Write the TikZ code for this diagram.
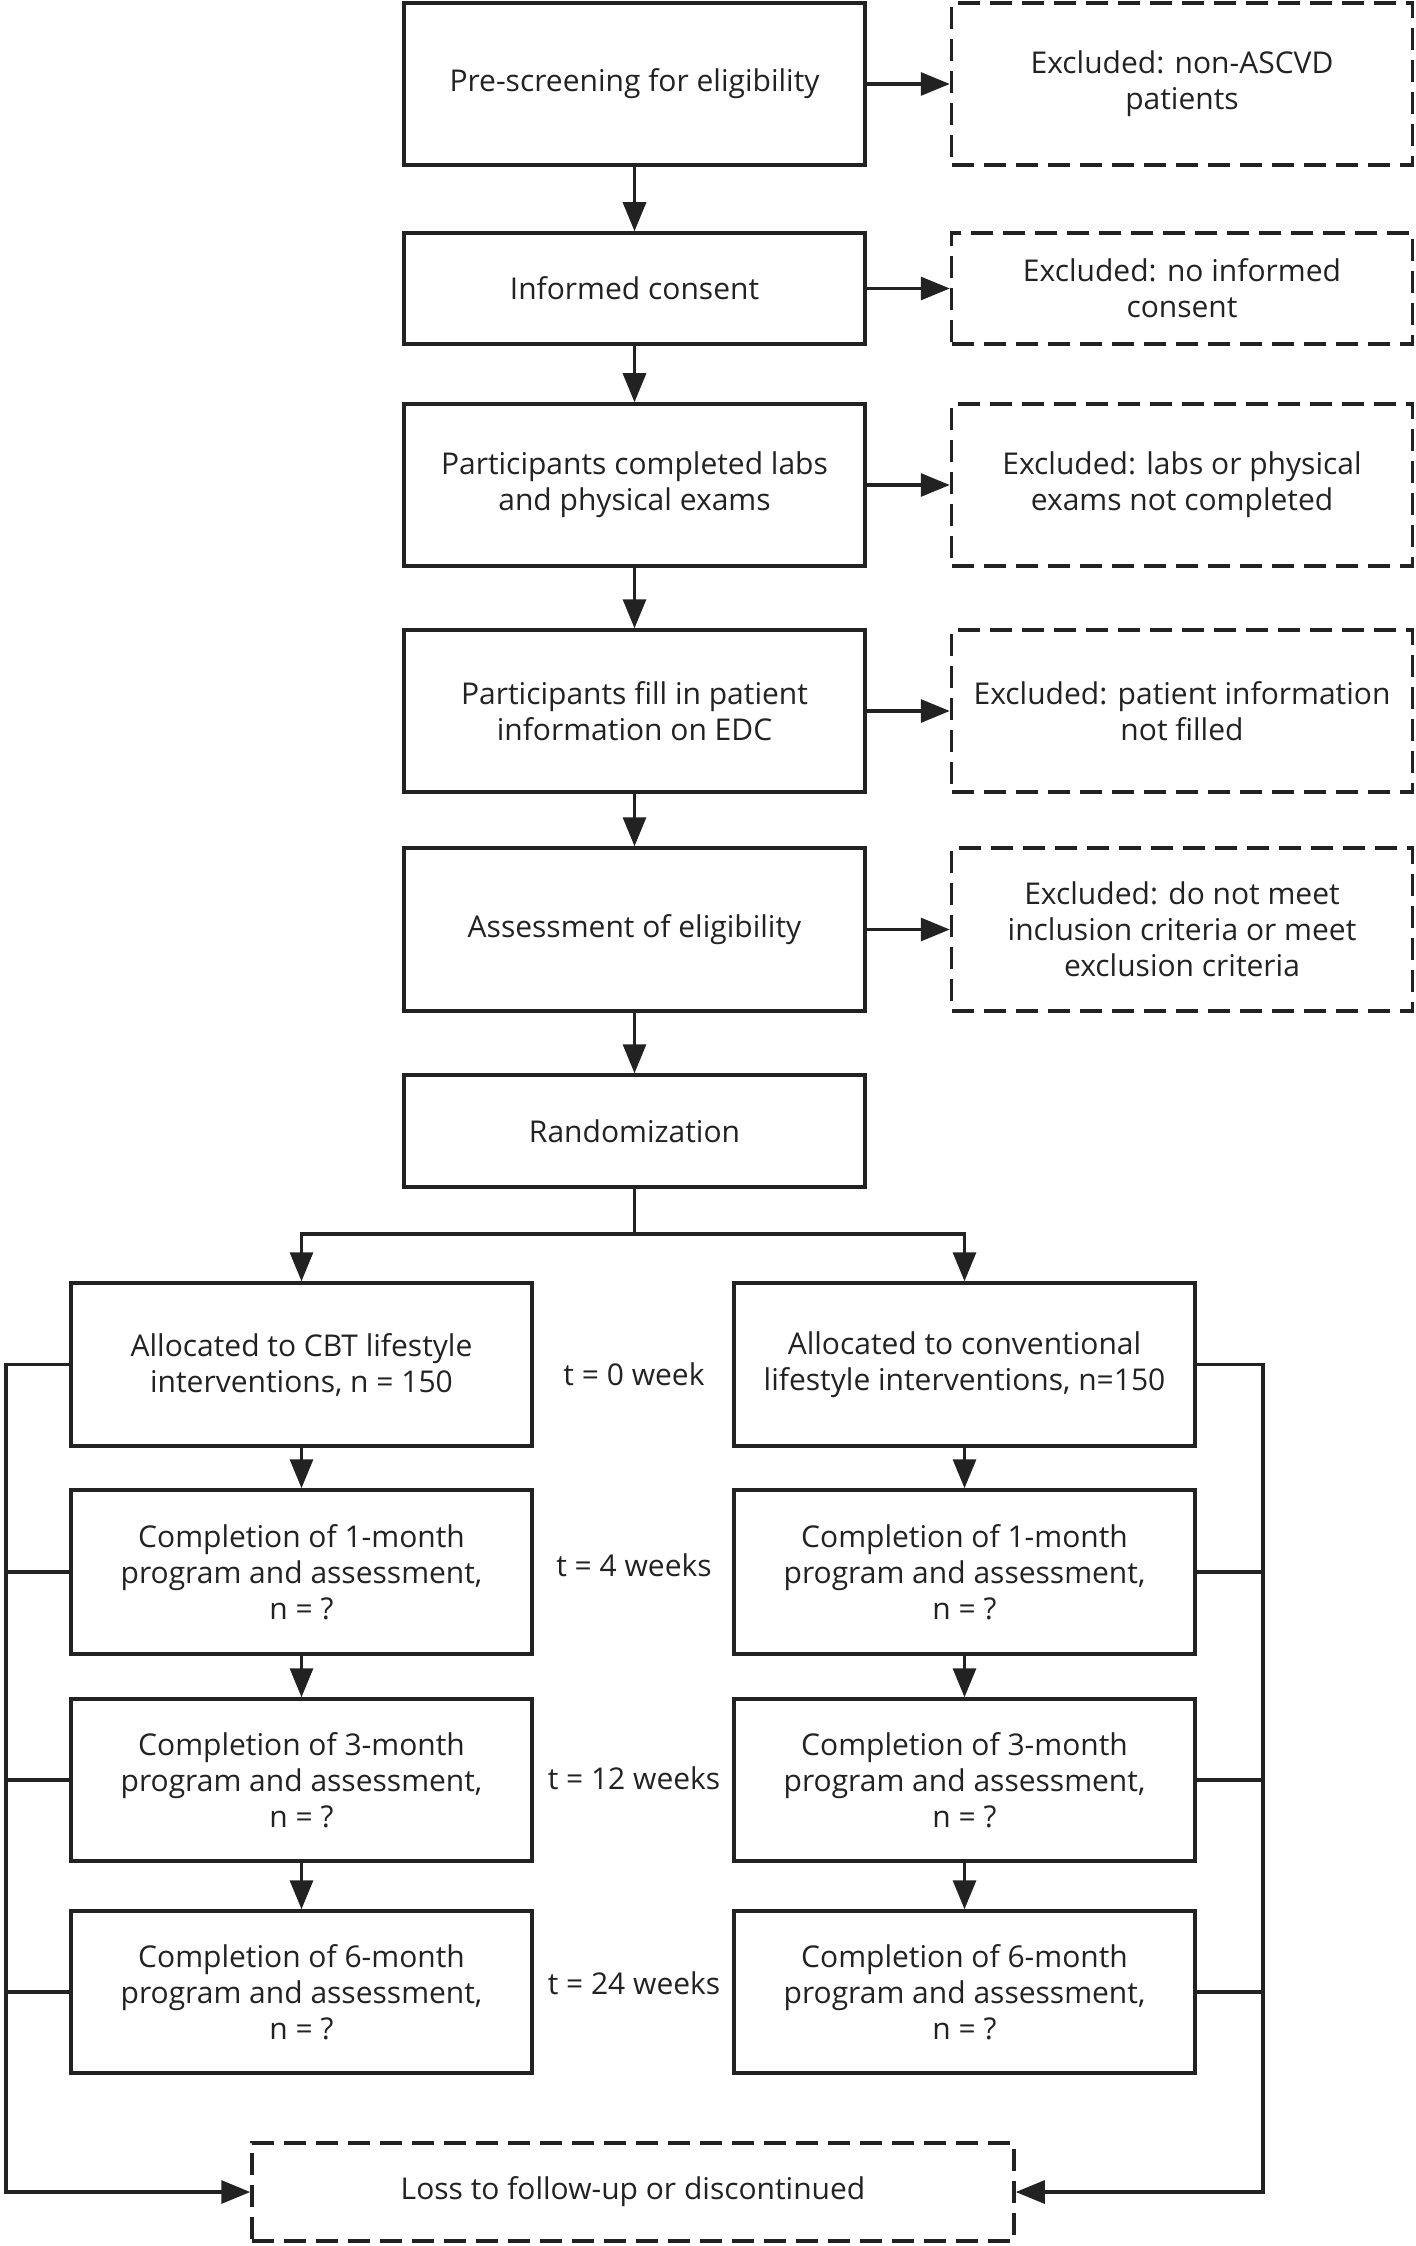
\documentclass[tikz,border=0pt]{standalone}
\usepackage{fontspec}
\setmainfont{Open Sans}
\usetikzlibrary{arrows.meta}

\definecolor{ink}{HTML}{222222}

\tikzset{
	box/.style={draw=ink, line width=1.75pt, minimum width=230.5pt, inner sep=0pt, align=center, text=ink, font=\fontsize{15}{18}\selectfont},
	dbox/.style={box, dash pattern=on 11pt off 5pt},
	tlabel/.style={text=ink, font=\fontsize{15}{18}\selectfont},
	link/.style={draw=ink, line width=1.6pt},
	arr/.style={link, -{Triangle[length=14.5pt,width=11.5pt]}},
}

\begin{document}
\begin{tikzpicture}[x=0.5pt,y=-0.5pt]
		
		\useasboundingbox (0,0) rectangle (1416,2246);
		
		\node[box, minimum height=81pt] (pre) at (634.5,84) {Pre-screening for eligibility};
		\node[box, minimum height=55.5pt] (cons) at (634.5,288.5) {Informed consent};
		\node[box, minimum height=81pt] (labs) at (634.5,485) {Participants completed labs\\and physical exams};
		\node[box, minimum height=81pt] (edc) at (634.5,711) {Participants fill in patient\\information on EDC};
		\node[box, minimum height=81.5pt] (elig) at (634.5,929.5) {Assessment of eligibility};
		\node[box, minimum height=56pt] (rand) at (634.5,1131) {Randomization};
		
		\node[dbox, minimum height=81pt] (exc1) at (1182,84) {Excluded: non-ASCVD\\patients};
		\node[dbox, minimum height=55.5pt] (exc2) at (1182,288.5) {Excluded: no informed\\consent};
		\node[dbox, minimum height=81pt] (exc3) at (1182,485) {Excluded: labs or physical\\exams not completed};
		\node[dbox, minimum height=81pt] (exc4) at (1182,711) {Excluded: patient information\\not filled};
		\node[dbox, minimum height=81.5pt] (exc5) at (1182,929.5) {Excluded: do not meet\\inclusion criteria or meet\\exclusion criteria};
		
		\draw[arr] (pre) -- (exc1);
		\draw[arr] (cons) -- (exc2);
		\draw[arr] (labs) -- (exc3);
		\draw[arr] (edc) -- (exc4);
		\draw[arr] (elig) -- (exc5);
		
		\draw[arr] (pre) -- (cons);
		\draw[arr] (cons) -- (labs);
		\draw[arr] (labs) -- (edc);
		\draw[arr] (edc) -- (elig);
		\draw[arr] (elig) -- (rand);
		
		\node[box, minimum height=81.5pt] (cbt0) at (301.5,1364.5) {Allocated to CBT lifestyle\\interventions, n = 150};
		\node[box, minimum height=82pt] (cbt1) at (301.5,1572) {Completion of 1-month\\program and assessment,\\n = ?};
		\node[box, minimum height=81pt] (cbt2) at (301.5,1780) {Completion of 3-month\\program and assessment,\\n = ?};
		\node[box, minimum height=81pt] (cbt3) at (301.5,1992) {Completion of 6-month\\program and assessment,\\n = ?};
		
		\node[box, minimum height=81.5pt] (conv0) at (964.5,1364.5) {Allocated to conventional\\lifestyle interventions, n=150};
		\node[box, minimum height=82pt] (conv1) at (964.5,1572) {Completion of 1-month\\program and assessment,\\n = ?};
		\node[box, minimum height=81pt] (conv2) at (964.5,1780) {Completion of 3-month\\program and assessment,\\n = ?};
		\node[box, minimum height=81pt] (conv3) at (964.5,1992) {Completion of 6-month\\program and assessment,\\n = ?};
		
		\node[tlabel] (t0) at (634,1374) {t = 0 week};
		\node[tlabel] (t1) at (634,1565) {t = 4 weeks};
		\node[tlabel] (t2) at (634,1778) {t = 12 weeks};
		\node[tlabel] (t3) at (634,1983) {t = 24 weeks};
		
		\coordinate (split) at (634.5,1234);
		\draw[link] (rand) -- (split);
		\draw[arr] (split) -| (cbt0.north);
		\draw[arr] (split) -| (conv0.north);
		
		\foreach \a/\b in {0/1,1/2,2/3}{
			\draw[arr] (cbt\a) -- (cbt\b);
			\draw[arr] (conv\a) -- (conv\b);
		}
		
		\node[dbox, minimum width=381pt, minimum height=49pt] (loss) at (633,2192) {Loss to follow-up or discontinued};
		
		\coordinate (lrail) at (6,2192);
		\coordinate (rrail) at (1263,2192);
		
		\draw[arr] (cbt0.west) -| (lrail) -- (loss.west);
		\draw[arr] (conv0.east) -| (rrail) -- (loss.east);
		\foreach \i in {1,2,3}{
			\draw[link] (cbt\i.west) -- (cbt\i.west -| lrail);
			\draw[link] (conv\i.east) -- (conv\i.east -| rrail);
		}
		
	\end{tikzpicture}
\end{document}
